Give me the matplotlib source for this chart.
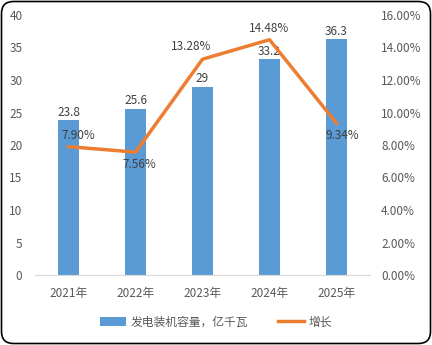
import numpy as np
import matplotlib.pyplot as plt
from matplotlib.patches import FancyBboxPatch

plt.rcParams['font.family'] = ['Noto Sans CJK SC', 'DejaVu Sans']

years = ['2021年', '2022年', '2023年', '2024年', '2025年']
capacity = [23.8, 25.6, 29, 33.2, 36.3]
growth = [7.90, 7.56, 13.28, 14.48, 9.34]
growth_labels = ['7.90%', '7.56%', '13.28%', '14.48%', '9.34%']

text_c = '#595959'
fs = 8.5

fig = plt.figure(figsize=(4.32, 3.45), dpi=100)
ax = fig.add_axes([35 / 432, 70 / 345, 335 / 432, 260 / 345])
ax2 = ax.twinx()

x = np.arange(len(years))
bars = ax.bar(x, capacity, width=0.31, color='#5B9BD5', label='发电装机容量，亿千瓦', zorder=2)
line, = ax2.plot(x, growth, color='#ED7D31', lw=2.5, label='增长', zorder=3)

ax.set_xlim(-0.5, 4.5)
ax.set_ylim(0, 40)
ax.set_yticks(np.arange(0, 41, 5))
ax2.set_ylim(0, 16)
ax2.set_yticks(np.arange(0, 17, 2))
ax2.set_yticklabels(['%.2f%%' % v for v in np.arange(0, 17, 2)])
ax.set_xticks(x)
ax.set_xticklabels(years)

for a in (ax, ax2):
    for s in ['top', 'left', 'right', 'bottom']:
        a.spines[s].set_visible(False)
    a.tick_params(length=0, colors=text_c, labelsize=fs)
ax.spines['bottom'].set_visible(True)
ax.spines['bottom'].set_color('#D9D9D9')
ax.tick_params(axis='y', pad=9)
ax.tick_params(axis='x', pad=9)
ax2.tick_params(axis='y', pad=8)

# bar labels
for xi, v in zip(x, capacity):
    ax.annotate('%g' % v, (xi, v), xytext=(0, 1), textcoords='offset points',
                ha='center', va='bottom', fontsize=fs, color='#404040')

# line labels
offs = [(7, 8), (3, -9), (-8, 9), (0, 8), (4, -9)]
for xi, v, lab, (dx, dy) in zip(x, growth, growth_labels, offs):
    ax2.annotate(lab, (xi, v), xytext=(dx, dy), textcoords='offset points',
                 ha='center', va='center', fontsize=fs, color='#404040')

fig.legend(handles=[bars, line], loc='center', bbox_to_anchor=(0.5, 23 / 345),
           ncol=2, frameon=False, fontsize=fs, labelcolor=text_c,
           handlelength=2.2, columnspacing=2.5, handletextpad=0.4)

# rounded outer frame (inches)
border = FancyBboxPatch((0.015, 0.015), 4.29, 3.42,
                        boxstyle='round,pad=0,rounding_size=0.12',
                        transform=fig.dpi_scale_trans, fill=False,
                        edgecolor='black', lw=1.2)
fig.patches.append(border)

fig.savefig('out.png', dpi=100)
